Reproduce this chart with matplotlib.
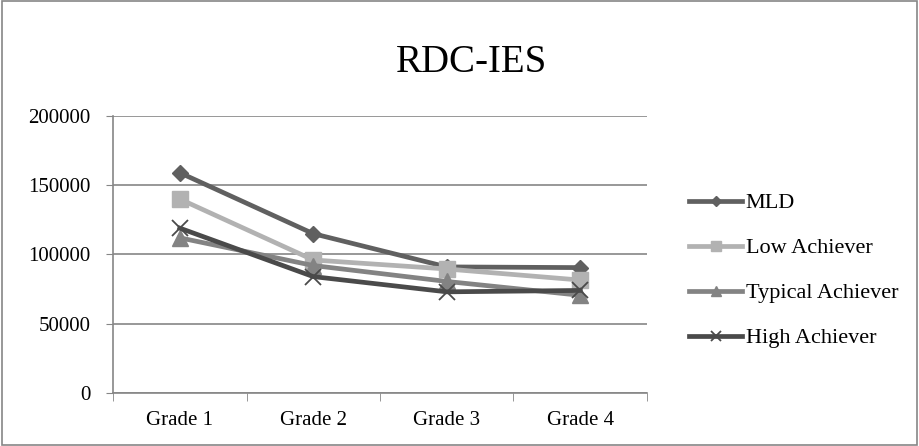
import matplotlib
matplotlib.use("Agg")
import matplotlib.pyplot as plt
import numpy as np

# data
grades = ["Grade 1", "Grade 2", "Grade 3", "Grade 4"]
mld = [159000, 115000, 91000, 90500]
low = [140000, 96000, 89500, 81500]
typical = [112000, 92000, 80500, 70500]
high = [119000, 84000, 73000, 74000]
yticks = [0, 50000, 100000, 150000, 200000]

plt.rcParams['font.family'] = ['Liberation Serif', 'DejaVu Serif']

fig = plt.figure(figsize=(9.19, 4.46), dpi=100)
ax = fig.add_axes([0.123, 0.119, 0.581, 0.621])

x = np.arange(len(grades))
ax.plot(x, mld, color="#606060", lw=3.4, marker="D", ms=8, label="MLD")
ax.plot(x, low, color="#b2b2b2", lw=3.4, marker="s", ms=11, label="Low Achiever")
ax.plot(x, typical, color="#838383", lw=3.4, marker="^", ms=11, label="Typical Achiever")
ax.plot(x, high, color="#4a4a4a", lw=3.4, marker="x", ms=11, mew=1.3, label="High Achiever")

ax.set_xlim(-0.5, 3.5)
ax.set_ylim(0, 200000)
ax.set_yticks(yticks)
ax.set_yticklabels([str(v) for v in yticks], fontsize=15)
ax.set_xticks(x)
ax.set_xticklabels(grades, fontsize=15)
ax.set_xticks(np.arange(-0.5, 4, 1), minor=True)
ax.tick_params(axis="x", which="major", length=0, pad=13)
ax.tick_params(axis="x", which="minor", length=6, color="#868686")
ax.tick_params(axis="y", length=5, color="#868686", pad=11)
ax.yaxis.grid(True, color="#868686", lw=1.2)
ax.set_axisbelow(True)
for s in ["top", "right"]:
    ax.spines[s].set_visible(False)
for s in ["left", "bottom"]:
    ax.spines[s].set_color("#868686")
    ax.spines[s].set_linewidth(1.2)

fig.text(0.5136, 0.839, "RDC-IES", ha="center", va="baseline", fontsize=28)

fig.legend(loc="center left", bbox_to_anchor=(0.728, 0.393), frameon=False,
           fontsize=16, handlelength=2.4, handletextpad=0.15, labelspacing=1.1,
           markerscale=0.6)

# outer border of the chart
fig.patches.append(plt.Rectangle((0.002, 0.002), 0.996, 0.996, transform=fig.transFigure,
                                 fill=False, edgecolor="#868686", lw=1.2))

fig.savefig("out.png", dpi=100)
